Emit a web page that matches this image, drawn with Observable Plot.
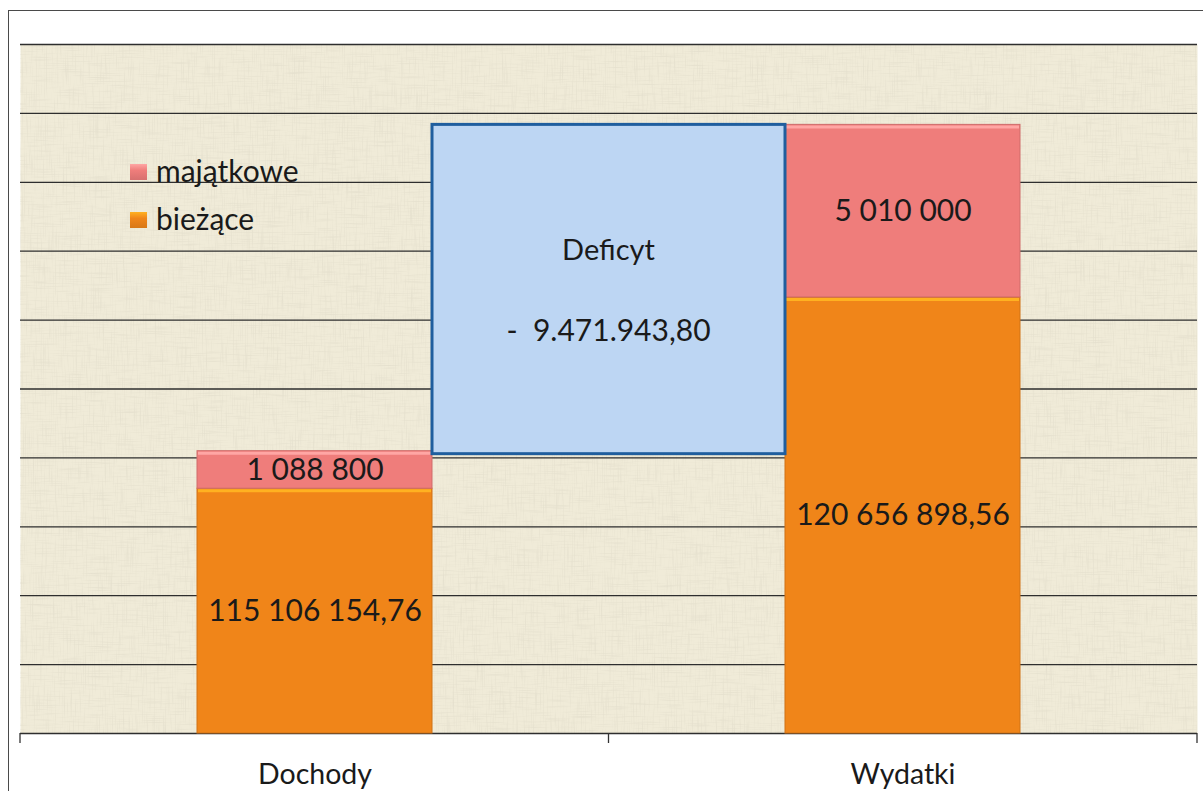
<!DOCTYPE html>
<html><head><meta charset="utf-8">
<script src="https://cdn.jsdelivr.net/npm/d3@7"></script>
<script src="https://cdn.jsdelivr.net/npm/@observablehq/plot@0.6"></script>
<style>
html,body{margin:0;padding:0;background:#fff;}
#wrap{position:relative;width:1203px;height:791px;overflow:hidden;font-family:Lato,"Open Sans",sans-serif;}
#border{position:absolute;left:8px;top:10px;width:1400px;height:1000px;border-top:1.5px solid #4a4a4a;border-left:1.5px solid #4a4a4a;box-sizing:border-box;}
#chart{position:absolute;left:0;top:0;}
#legend{position:absolute;left:130px;top:146px;font-size:30px;color:#1a1a1a;line-height:1;}
.item{display:flex;align-items:center;height:48px;}
.sw{width:17px;height:16px;margin-right:9px;margin-top:3px;}
</style></head>
<body>
<div id="wrap"><div id="border"></div><div id="chart"></div><div id="legend"></div></div>
<script>
// ---- data ----
const categories = ["Dochody", "Wydatki"];
const seriesNames = ["bieżące", "majątkowe"];
const biezace = [115106154.76, 120656898.56];
const majatkowe = [1088800, 5010000];
const deficitLabel = "Deficyt";
const yTicks = [108e6, 110e6, 112e6, 114e6, 116e6, 118e6, 120e6, 122e6, 124e6, 126e6, 128e6];
const seriesColors = ["#f08519", "#ef7d7b"];
const legendOrder = ["majątkowe", "bieżące"];

// ---- derived ----
const yMin = yTicks[0], yMax = yTicks[yTicks.length - 1];
const rows = [];
categories.forEach((c, i) => {
  rows.push({cat: c, series: seriesNames[0], y1: 0, y2: biezace[i], value: biezace[i]});
  rows.push({cat: c, series: seriesNames[1], y1: biezace[i], y2: biezace[i] + majatkowe[i], value: majatkowe[i]});
});
const totals = categories.map((c, i) => biezace[i] + majatkowe[i]);
const deficit = totals[0] - totals[1];

const plLocale = d3.formatLocale({decimal: ",", thousands: " ", grouping: [3], currency: ["", ""]});
const dotLocale = d3.formatLocale({decimal: ",", thousands: ".", grouping: [3], currency: ["", ""]});
const fmt = v => Number.isInteger(v) ? plLocale.format(",.0f")(v) : plLocale.format(",.2f")(v);
const deficitText = (deficit < 0 ? "-  " : "") + dotLocale.format(",.2f")(Math.abs(deficit));

const colorOf = s => seriesColors[seriesNames.indexOf(s)];
const lighter = s => d3.color(colorOf(s)).brighter(0.8).formatHex();

const defs = () => {
  const g = d3.create("svg:defs");
  g.html(`
    <filter id="linen" x="0" y="0" width="100%" height="100%">
      <feTurbulence type="fractalNoise" baseFrequency="0.9 0.035" numOctaves="2" seed="4" result="a"/>
      <feColorMatrix in="a" type="matrix" values="0 0 0 0 0.6  0 0 0 0 0.57  0 0 0 0 0.47  0 0 0 2.2 -1.1" result="ha"/>
      <feTurbulence type="fractalNoise" baseFrequency="0.035 0.9" numOctaves="2" seed="9" result="b"/>
      <feColorMatrix in="b" type="matrix" values="0 0 0 0 0.6  0 0 0 0 0.57  0 0 0 0 0.47  0 0 0 2.2 -1.1" result="hb"/>
      <feMerge><feMergeNode in="ha"/><feMergeNode in="hb"/></feMerge>
    </filter>`);
  return g.node();
};

const texture = (index, scales, values, dim) => {
  return d3.create("svg:rect")
    .attr("x", dim.marginLeft).attr("y", dim.marginTop)
    .attr("width", dim.width - dim.marginLeft - dim.marginRight)
    .attr("height", dim.height - dim.marginTop - dim.marginBottom)
    .attr("filter", "url(#linen)").attr("opacity", 0.3).node();
};

const deficitBox = (index, scales) => {
  const x = scales.x, y = scales.y;
  const bw = x.bandwidth ? x.bandwidth() : 0;
  const x1 = x(categories[0]) + bw, x2 = x(categories[1]);
  const yTop = y(totals[1]), yBot = y(totals[0]);
  const cx = (x1 + x2) / 2, cy = (yTop + yBot) / 2;
  const g = d3.create("svg:g");
  g.append("rect").attr("x", x1).attr("y", yTop).attr("width", x2 - x1).attr("height", yBot - yTop + 3)
    .attr("fill", "#bdd6f3").attr("stroke", "#1f5e9e").attr("stroke-width", 3);
  const t = g.append("g").attr("text-anchor", "middle").attr("font-size", 29).attr("fill", "#1a1a1a")
    .attr("font-family", "Lato, sans-serif");
  t.append("text").attr("x", cx).attr("y", cy - 38).attr("dy", "0.35em").text(deficitLabel);
  t.append("text").attr("x", cx).attr("y", cy + 43).attr("dy", "0.35em").attr("font-size", 30).text(deficitText);
  return g.node();
};

const catTicks = (index, scales, values, dim) => {
  const x = scales.x, y = scales.y;
  const bw = x.bandwidth ? x.bandwidth() : 0;
  const xs = [dim.marginLeft, (x(categories[0]) + bw + x(categories[1])) / 2, dim.width - dim.marginRight];
  const y0 = y(yMin);
  const g = d3.create("svg:g").attr("stroke", "#333").attr("stroke-width", 1.3);
  xs.forEach(v => g.append("line").attr("x1", v).attr("x2", v).attr("y1", y0).attr("y2", y0 + 10));
  return g.node();
};

const chart = Plot.plot({
  width: 1203, height: 791,
  marginLeft: 20, marginRight: 6, marginTop: 44, marginBottom: 58,
  style: {fontFamily: "Lato, sans-serif", background: "transparent"},
  x: {domain: categories, paddingInner: 0.6, paddingOuter: 0.3, axis: null},
  y: {domain: [yMin, yMax], clamp: true, axis: null},
  color: {domain: seriesNames, range: seriesColors},
  marks: [
    defs,
    Plot.frame({fill: "#f0ebd8", stroke: "none"}),
    texture,
    Plot.ruleY(yTicks, {stroke: "#2e2e2e", strokeWidth: 1.3}),
    Plot.barY(rows, {x: "cat", y1: "y1", y2: "y2", fill: "series", stroke: d => d3.color(colorOf(d.series)).darker(0.4).formatHex(), strokeWidth: 1}),
    Plot.tickY(rows, {x: "cat", y: "y2", stroke: d => lighter(d.series), strokeWidth: 3, dy: 2, inset: 1}),
    deficitBox,
    Plot.text(rows, {x: "cat", y: d => (Math.max(d.y1, yMin) + d.y2) / 2, text: d => fmt(d.value), fontSize: 30, fill: "#1a1a1a"}),
    catTicks,
    Plot.text(categories, {x: d => d, frameAnchor: "bottom", dy: 50, text: d => d, fontSize: 28.5, fill: "#1a1a1a"})
  ]
});
document.getElementById("chart").appendChild(chart);

const legend = document.getElementById("legend");
legendOrder.forEach(s => {
  const item = document.createElement("div"); item.className = "item";
  const sw = document.createElement("div"); sw.className = "sw";
  sw.style.background = `linear-gradient(${lighter(s)}, ${colorOf(s)} 40%, ${d3.color(colorOf(s)).darker(0.3).formatHex()})`;
  const lb = document.createElement("span"); lb.textContent = s;
  item.appendChild(sw); item.appendChild(lb); legend.appendChild(item);
});
</script>
</body></html>
